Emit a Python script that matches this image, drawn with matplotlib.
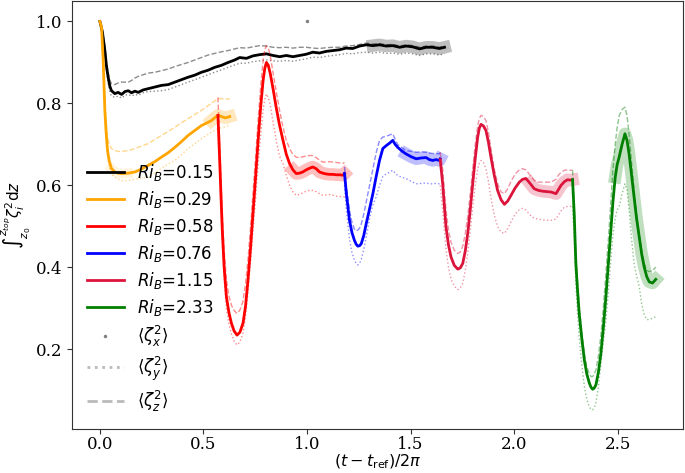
import matplotlib
matplotlib.use("Agg")
import matplotlib.pyplot as plt

# ---------------- data ----------------
# Ri_B = 0.15 (black)
t_015 = [0.0, 0.012, 0.024, 0.032, 0.040, 0.048, 0.056, 0.072, 0.088, 0.105, 0.121, 0.137, 0.153, 0.169,
         0.185, 0.209, 0.233, 0.265, 0.297, 0.330, 0.362, 0.394, 0.426, 0.458, 0.490, 0.522, 0.554, 0.587,
         0.619, 0.651, 0.675, 0.707, 0.739, 0.771, 0.804, 0.836, 0.868, 0.900, 0.932, 0.964, 0.996,
         1.028, 1.060, 1.093, 1.125, 1.157, 1.189, 1.221, 1.254, 1.286, 1.318, 1.350, 1.382, 1.414,
         1.447, 1.479, 1.511, 1.543, 1.575, 1.607, 1.639, 1.664]
m_015 = [1.0, 0.975, 0.929, 0.890, 0.864, 0.842, 0.831, 0.824, 0.827, 0.822, 0.829, 0.831, 0.826, 0.830,
         0.827, 0.833, 0.836, 0.840, 0.844, 0.846, 0.852, 0.858, 0.864, 0.869, 0.876, 0.881, 0.888, 0.893,
         0.900, 0.906, 0.912, 0.910, 0.916, 0.919, 0.921, 0.917, 0.914, 0.917, 0.914, 0.917, 0.920,
         0.925, 0.923, 0.927, 0.929, 0.931, 0.935, 0.934, 0.940, 0.943, 0.941, 0.943, 0.940, 0.941,
         0.937, 0.940, 0.938, 0.933, 0.937, 0.937, 0.934, 0.937]
z_015 = [1.0, 0.978, 0.940, 0.900, 0.875, 0.856, 0.848, 0.846, 0.850, 0.852, 0.852, 0.852, 0.856, 0.862,
         0.866, 0.870, 0.874, 0.876, 0.880, 0.884, 0.890, 0.895, 0.900, 0.906, 0.912, 0.918, 0.922, 0.926,
         0.929, 0.933, 0.936, 0.935, 0.938, 0.941, 0.940, 0.937, 0.936, 0.937, 0.935, 0.937, 0.937,
         0.935, 0.934, 0.936, 0.937, 0.937, 0.940, 0.941, 0.944, 0.947, 0.945, 0.946, 0.943, 0.944,
         0.940, 0.943, 0.941, 0.937, 0.940, 0.940, 0.937, 0.940]
y_015 = [1.0, 0.970, 0.920, 0.878, 0.850, 0.828, 0.818, 0.815, 0.818, 0.813, 0.820, 0.822, 0.818, 0.822,
         0.820, 0.826, 0.829, 0.830, 0.831, 0.834, 0.840, 0.846, 0.852, 0.858, 0.864, 0.870, 0.876, 0.882,
         0.888, 0.894, 0.898, 0.898, 0.902, 0.904, 0.906, 0.904, 0.903, 0.905, 0.903, 0.906, 0.909,
         0.913, 0.912, 0.915, 0.917, 0.919, 0.922, 0.921, 0.924, 0.925, 0.923, 0.925, 0.922, 0.923,
         0.920, 0.923, 0.921, 0.917, 0.921, 0.921, 0.918, 0.921]

# Ri_B = 0.29 (orange)
t_029 = [0.0, 0.008, 0.016, 0.024, 0.030, 0.037, 0.045, 0.056, 0.072, 0.088, 0.105, 0.137, 0.169, 0.201,
         0.233, 0.265, 0.297, 0.330, 0.362, 0.394, 0.426, 0.458, 0.490, 0.514, 0.538, 0.554, 0.570,
         0.587, 0.603, 0.615, 0.627]
m_029 = [1.0, 0.985, 0.904, 0.783, 0.730, 0.685, 0.660, 0.641, 0.633, 0.630, 0.629, 0.630, 0.633, 0.640,
         0.649, 0.658, 0.669, 0.680, 0.693, 0.707, 0.722, 0.734, 0.746, 0.752, 0.758, 0.765, 0.771,
         0.768, 0.765, 0.766, 0.768]
z_029 = [1.0, 0.988, 0.920, 0.800, 0.755, 0.718, 0.700, 0.690, 0.685, 0.683, 0.683, 0.685, 0.690, 0.696,
         0.702, 0.712, 0.722, 0.732, 0.742, 0.753, 0.763, 0.773, 0.783, 0.792, 0.800, 0.806, 0.811,
         0.812, 0.810, 0.811, 0.811]
y_029 = [1.0, 0.982, 0.895, 0.770, 0.712, 0.668, 0.645, 0.629, 0.620, 0.615, 0.612, 0.612, 0.615, 0.618,
         0.620, 0.630, 0.642, 0.652, 0.661, 0.675, 0.690, 0.702, 0.714, 0.722, 0.730, 0.734, 0.738,
         0.741, 0.743, 0.745, 0.746]

# Ri_B = 0.58 (red)
t_058 = [0.570, 0.579, 0.585, 0.591, 0.600, 0.611, 0.623, 0.635, 0.648, 0.662, 0.676, 0.691, 0.703,
         0.715, 0.727, 0.739, 0.752, 0.764, 0.776, 0.788, 0.796, 0.804, 0.813, 0.823, 0.837, 0.851,
         0.867, 0.884, 0.900, 0.916, 0.932, 0.948, 0.964, 0.980, 0.996, 1.012, 1.028, 1.044, 1.060,
         1.076, 1.093, 1.109, 1.125, 1.141, 1.157, 1.173, 1.181]
m_058 = [0.771, 0.653, 0.570, 0.491, 0.400, 0.328, 0.290, 0.264, 0.245, 0.235, 0.242, 0.264, 0.305,
         0.369, 0.445, 0.531, 0.622, 0.710, 0.790, 0.856, 0.885, 0.900, 0.893, 0.872, 0.833, 0.791,
         0.748, 0.710, 0.676, 0.653, 0.638, 0.629, 0.630, 0.633, 0.638, 0.642, 0.645, 0.641, 0.633,
         0.630, 0.628, 0.627, 0.627, 0.626, 0.626, 0.625, 0.629]
z_058 = [0.815, 0.700, 0.610, 0.530, 0.440, 0.370, 0.330, 0.308, 0.295, 0.288, 0.296, 0.318, 0.360,
         0.420, 0.495, 0.580, 0.670, 0.760, 0.840, 0.905, 0.930, 0.941, 0.935, 0.915, 0.872, 0.830,
         0.785, 0.742, 0.710, 0.690, 0.675, 0.669, 0.668, 0.670, 0.672, 0.673, 0.673, 0.668, 0.662,
         0.657, 0.657, 0.658, 0.657, 0.656, 0.655, 0.654, 0.656]
y_058 = [0.740, 0.620, 0.540, 0.460, 0.372, 0.300, 0.262, 0.238, 0.220, 0.211, 0.218, 0.240, 0.280,
         0.340, 0.410, 0.490, 0.570, 0.650, 0.720, 0.785, 0.810, 0.823, 0.815, 0.795, 0.752, 0.710,
         0.672, 0.653, 0.625, 0.600, 0.584, 0.576, 0.578, 0.582, 0.586, 0.588, 0.588, 0.585, 0.580,
         0.576, 0.577, 0.578, 0.576, 0.574, 0.573, 0.572, 0.572]

# Ri_B = 0.76 (blue)
t_076 = [1.181, 1.190, 1.205, 1.217, 1.229, 1.237, 1.245, 1.254, 1.262, 1.274, 1.286, 1.302, 1.318,
         1.334, 1.350, 1.366, 1.382, 1.398, 1.414, 1.426, 1.438, 1.458, 1.478, 1.503, 1.527, 1.551,
         1.575, 1.591, 1.607, 1.623, 1.639, 1.643]
m_076 = [0.629, 0.580, 0.515, 0.485, 0.466, 0.457, 0.452, 0.453, 0.458, 0.478, 0.507, 0.543, 0.580,
         0.622, 0.661, 0.690, 0.697, 0.703, 0.710, 0.700, 0.693, 0.684, 0.677, 0.670, 0.665, 0.667,
         0.668, 0.663, 0.661, 0.663, 0.661, 0.665]
z_076 = [0.645, 0.600, 0.540, 0.510, 0.493, 0.489, 0.491, 0.496, 0.506, 0.530, 0.560, 0.600, 0.640,
         0.680, 0.710, 0.718, 0.720, 0.723, 0.726, 0.712, 0.700, 0.692, 0.685, 0.683, 0.681, 0.682,
         0.681, 0.679, 0.678, 0.678, 0.677, 0.680]
y_076 = [0.600, 0.540, 0.470, 0.436, 0.418, 0.410, 0.406, 0.410, 0.420, 0.444, 0.475, 0.520, 0.552,
         0.572, 0.600, 0.622, 0.628, 0.632, 0.637, 0.630, 0.624, 0.620, 0.617, 0.610, 0.604, 0.605,
         0.606, 0.604, 0.604, 0.605, 0.604, 0.604]

# Ri_B = 1.15 (crimson)
t_115 = [1.643, 1.655, 1.663, 1.671, 1.683, 1.695, 1.711, 1.728, 1.740, 1.752, 1.764, 1.776, 1.788,
         1.800, 1.812, 1.824, 1.832, 1.840, 1.852, 1.864, 1.876, 1.888, 1.904, 1.920, 1.937, 1.953,
         1.969, 1.985, 2.005, 2.025, 2.041, 2.057, 2.077, 2.097, 2.117, 2.137, 2.157, 2.178, 2.202,
         2.214, 2.226, 2.242, 2.258, 2.270, 2.282]
m_115 = [0.663, 0.604, 0.550, 0.499, 0.455, 0.426, 0.405, 0.396, 0.399, 0.410, 0.440, 0.483, 0.540,
         0.604, 0.665, 0.718, 0.740, 0.749, 0.745, 0.734, 0.705, 0.669, 0.625, 0.588, 0.565, 0.554,
         0.562, 0.576, 0.594, 0.608, 0.615, 0.617, 0.605, 0.592, 0.588, 0.586, 0.585, 0.584, 0.580,
         0.590, 0.600, 0.609, 0.614, 0.613, 0.614]
z_115 = [0.681, 0.640, 0.590, 0.540, 0.492, 0.462, 0.442, 0.434, 0.438, 0.452, 0.482, 0.525, 0.580,
         0.640, 0.700, 0.745, 0.763, 0.771, 0.768, 0.758, 0.730, 0.690, 0.640, 0.605, 0.584, 0.580,
         0.592, 0.610, 0.628, 0.638, 0.641, 0.638, 0.625, 0.612, 0.608, 0.608, 0.608, 0.608, 0.615,
         0.625, 0.632, 0.637, 0.638, 0.637, 0.637]
y_115 = [0.600, 0.540, 0.490, 0.445, 0.400, 0.372, 0.354, 0.346, 0.350, 0.362, 0.392, 0.435, 0.490,
         0.545, 0.600, 0.640, 0.655, 0.661, 0.656, 0.640, 0.610, 0.570, 0.528, 0.500, 0.486, 0.483,
         0.495, 0.512, 0.530, 0.541, 0.544, 0.540, 0.528, 0.520, 0.518, 0.516, 0.515, 0.515, 0.518,
         0.528, 0.538, 0.547, 0.549, 0.549, 0.549]

# Ri_B = 2.33 (green)
t_233 = [2.282, 2.290, 2.298, 2.306, 2.314, 2.327, 2.339, 2.351, 2.363, 2.371, 2.379, 2.387, 2.395,
         2.407, 2.419, 2.431, 2.443, 2.455, 2.467, 2.477, 2.488, 2.497, 2.507, 2.521, 2.535, 2.545,
         2.555, 2.567, 2.579, 2.591, 2.604, 2.616, 2.628, 2.640, 2.652, 2.668, 2.684]
m_233 = [0.614, 0.531, 0.410, 0.345, 0.288, 0.225, 0.174, 0.140, 0.118, 0.108, 0.103, 0.106, 0.114,
         0.145, 0.191, 0.255, 0.328, 0.410, 0.491, 0.560, 0.620, 0.650, 0.669, 0.700, 0.726, 0.710,
         0.677, 0.625, 0.572, 0.520, 0.474, 0.432, 0.401, 0.378, 0.365, 0.362, 0.371]
z_233 = [0.637, 0.550, 0.430, 0.365, 0.305, 0.240, 0.190, 0.158, 0.140, 0.134, 0.134, 0.140, 0.150,
         0.185, 0.235, 0.305, 0.385, 0.470, 0.560, 0.640, 0.700, 0.740, 0.770, 0.785, 0.791, 0.770,
         0.725, 0.655, 0.590, 0.530, 0.480, 0.440, 0.410, 0.393, 0.390, 0.392, 0.401]
y_233 = [0.549, 0.470, 0.360, 0.290, 0.230, 0.160, 0.110, 0.078, 0.060, 0.054, 0.053, 0.058, 0.070,
         0.110, 0.165, 0.220, 0.272, 0.340, 0.420, 0.480, 0.520, 0.540, 0.548, 0.580, 0.604, 0.590,
         0.540, 0.470, 0.410, 0.380, 0.353, 0.310, 0.285, 0.273, 0.273, 0.276, 0.280]

# shaded (final) portions: start times
band_start = [1.29, 0.53, 0.92, 1.47, 2.06, 2.48]
band_early_029 = [0.05, 0.15]

labels = [r'$Ri_B$=0.15', r'$Ri_B$=0.29', r'$Ri_B$=0.58', r'$Ri_B$=0.76', r'$Ri_B$=1.15', r'$Ri_B$=2.33']
colors = ['black', 'orange', 'red', 'blue', 'crimson', 'green']

zeta_x_point = (1.0, 1.0)
xticks = [0.0, 0.5, 1.0, 1.5, 2.0, 2.5]
yticks = [0.2, 0.4, 0.6, 0.8, 1.0]

# ---------------- plot ----------------
fig = plt.figure(figsize=(6.85, 4.73), dpi=100)
ax = fig.add_axes([0.105, 0.093, 0.892, 0.905])

series = [(t_015, m_015, z_015, y_015), (t_029, m_029, z_029, y_029), (t_058, m_058, z_058, y_058),
          (t_076, m_076, z_076, y_076), (t_115, m_115, z_115, y_115), (t_233, m_233, z_233, y_233)]

for (t, m, z, y), c, lab, bs in zip(series, colors, labels, band_start):
    ax.plot(t, z, '--', color=c, lw=1.0, alpha=0.45)
    ax.plot(t, y, ':', color=c, lw=1.0, alpha=0.45)
    tb = [ti for ti in t if ti >= bs]
    mb = [mi for ti, mi in zip(t, m) if ti >= bs]
    ax.plot(tb, mb, '-', color=c, lw=9, alpha=0.25)
    ax.plot(t, m, '-', color=c, lw=2.0, label=lab)

tb = [ti for ti in t_029 if band_early_029[0] <= ti <= band_early_029[1]]
mb = [mi for ti, mi in zip(t_029, m_029) if band_early_029[0] <= ti <= band_early_029[1]]
ax.plot(tb, mb, '-', color='orange', lw=7, alpha=0.12)

ax.plot([zeta_x_point[0]], [zeta_x_point[1]], '.', color='grey', ms=3, label=r'$\langle\zeta_x^2\rangle$')
ax.plot([], [], ':', color='darkgrey', lw=2, alpha=0.8, label=r'$\langle\zeta_y^2\rangle$')
ax.plot([], [], '--', color='darkgrey', lw=2, alpha=0.8, label=r'$\langle\zeta_z^2\rangle$')

ax.set_xlim(-0.135, 2.815)
ax.set_ylim(0.006, 1.05)
ax.set_xticks(xticks)
ax.set_yticks(yticks)
ax.set_xticklabels([f'{v:.1f}' for v in xticks], family='DejaVu Serif', fontsize=12)
ax.set_yticklabels([f'{v:.1f}' for v in yticks], family='DejaVu Serif', fontsize=12)
for sp in ax.spines.values():
    sp.set_color('#333333')
ax.tick_params(colors='#333333', labelcolor='black')
ax.tick_params(axis='x', pad=1.5)

ax.set_xlabel(r'$(t - t_{\rm ref})/2\pi$', fontsize=11.5)
ax.xaxis.set_label_coords(0.5, -0.055)
ax.xaxis.label.set_va('top')
ax.set_ylabel(r'$\int_{z_0}^{z_{top}}\zeta_i^2\mathrm{d}z$', fontsize=11)
ax.yaxis.set_label_coords(-0.064, 0.5)

ax.legend(loc='lower left', frameon=False, fontsize=12, labelspacing=0.36, handlelength=2.2)

fig.savefig('out.png', dpi=100)
